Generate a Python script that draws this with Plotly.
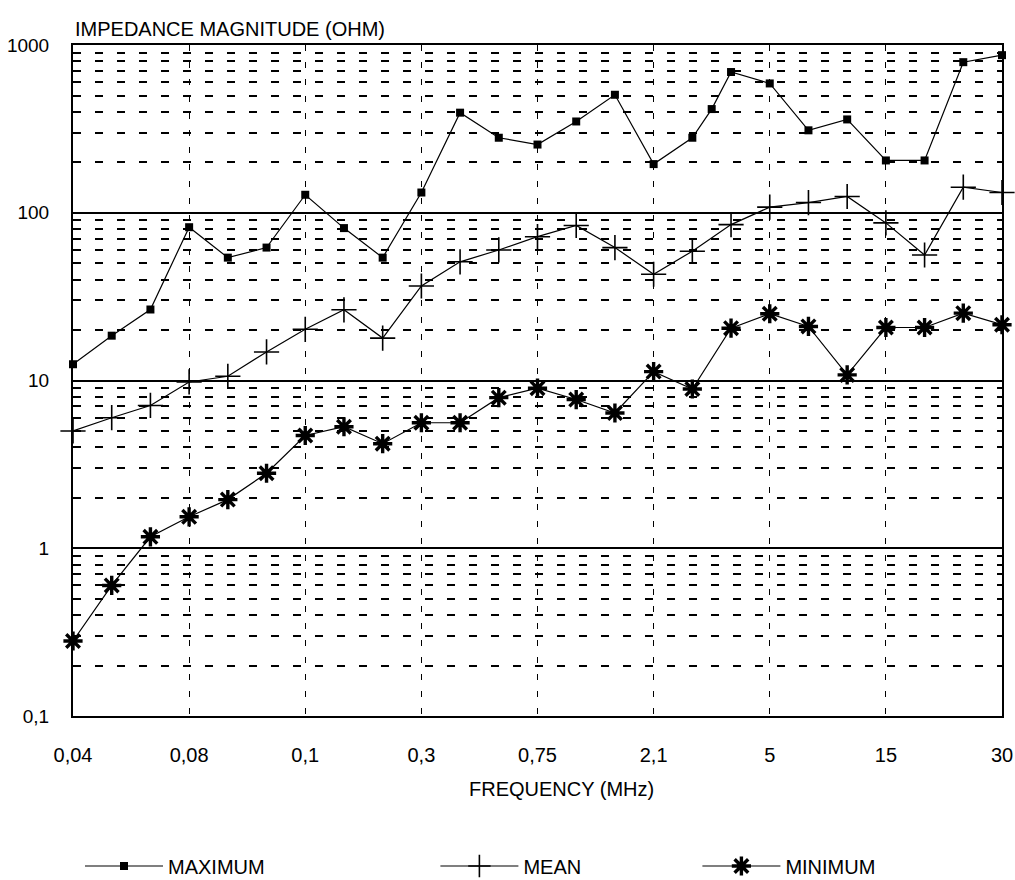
import plotly.graph_objects as go

# ---- data ----
freq_labels = ["0,04", "0,08", "0,1", "0,3", "0,75", "2,1", "5", "15", "30"]
freq_label_pos = [0, 3, 6, 9, 12, 15, 18, 21, 24]

y_tick_vals = [0.1, 1, 10, 100, 1000]
y_tick_text = ["0,1", "1", "10", "100", "1000"]

max_x = [0, 1, 2, 3, 4, 5, 6, 7, 8, 9, 10, 11, 12, 13, 14, 15, 16, 16.5, 17, 18, 19, 20, 21, 22, 23, 24]
max_vals = [12.5, 18.5, 26.5, 82, 54, 62, 128, 81, 54, 132, 395, 280, 255, 350, 505,
            195, 280, 415, 690, 590, 310, 360, 205, 205, 790, 870]

mean_x = list(range(25))
mean_vals = [5.0, 6.0, 7.1, 9.8, 10.6, 14.8, 20.2, 26.4, 17.9, 36.6, 51, 60, 72, 84, 62,
             43, 59, 85, 108, 115, 125, 87, 56, 142, 132]

min_x = list(range(25))
min_vals = [0.28, 0.6, 1.17, 1.54, 1.95, 2.8, 4.7, 5.3, 4.2, 5.6, 5.6, 7.9, 9.0, 7.7, 6.4,
            11.3, 8.9, 20.5, 25, 21, 10.8, 20.7, 20.7, 25.2, 21.5]

FONT = "Liberation Sans, Arial, sans-serif"

fig = go.Figure()
fig.add_trace(go.Scatter(
    x=max_x, y=max_vals, mode="lines+markers", name="MAXIMUM",
    line=dict(color="black", width=1.2),
    marker=dict(symbol="square", size=8, color="black"),
    cliponaxis=False, legend="legend"))
fig.add_trace(go.Scatter(
    x=mean_x, y=mean_vals, mode="lines+markers", name="MEAN",
    line=dict(color="black", width=1.2),
    marker=dict(symbol="cross-thin", size=18, color="black",
                line=dict(color="black", width=1.6)),
    cliponaxis=False, legend="legend2"))
fig.add_trace(go.Scatter(
    x=min_x, y=min_vals, mode="lines+markers", name="MINIMUM",
    line=dict(color="black", width=1.2),
    marker=dict(symbol="asterisk", size=16, color="black",
                line=dict(color="black", width=3.4)),
    cliponaxis=False, legend="legend3"))

FIG_W, FIG_H = 1015, 880
LEG_Y = 1 - 866 / FIG_H

leg_common = dict(orientation="h", yanchor="middle", xanchor="left",
                  xref="container", yref="container",
                  font=dict(family=FONT, size=20, color="black"),
                  itemwidth=78, bgcolor="rgba(0,0,0,0)")

fig.update_layout(
    width=FIG_W, height=FIG_H,
    margin=dict(l=73, r=13, t=45, b=164, autoexpand=False),
    paper_bgcolor="white", plot_bgcolor="white",
    font=dict(family=FONT, size=20, color="black"),
    showlegend=True,
    legend=dict(x=80 / FIG_W, y=LEG_Y, **leg_common),
    legend2=dict(x=435.4 / FIG_W, y=LEG_Y, **leg_common),
    legend3=dict(x=697.4 / FIG_W, y=LEG_Y, **leg_common),
    xaxis=dict(
        range=[0, 24], tickmode="array", tickvals=freq_label_pos, ticktext=freq_labels,
        showgrid=True, gridcolor="black", gridwidth=1.3, griddash="6px,11px",
        showline=True, mirror=True, linecolor="black", linewidth=2,
        ticks="", ticklabelstandoff=20, zeroline=False, automargin=False,
        tickfont=dict(family=FONT, size=20, color="black")),
    yaxis=dict(
        type="log", range=[-1, 3], tickmode="array", tickvals=y_tick_vals, ticktext=y_tick_text,
        showgrid=True, gridcolor="black", gridwidth=2,
        minor=dict(dtick="D1", showgrid=True, gridcolor="black", gridwidth=1.5,
                   griddash="8px,14px"),
        showline=True, mirror=True, linecolor="black", linewidth=2,
        ticks="", ticklabelstandoff=18, zeroline=False, automargin=False,
        tickfont=dict(family=FONT, size=19, color="black")),
    annotations=[
        dict(text="IMPEDANCE MAGNITUDE (OHM)", xref="paper", yref="paper",
             x=0, y=1 + 16 / 671, xanchor="left", yanchor="middle", showarrow=False,
             font=dict(family=FONT, size=20, color="black")),
        dict(text="FREQUENCY (MHz)", xref="paper", yref="paper",
             x=0.526, y=-0.109, xanchor="center", yanchor="middle", showarrow=False,
             font=dict(family=FONT, size=20, color="black")),
    ],
)

# remove the page's default body margin so the 1015x880 figure fills the window exactly
fig.write_html("out.html", config={"displayModeBar": False},
               post_script="document.body.style.margin='0px';document.body.style.overflow='hidden';")
